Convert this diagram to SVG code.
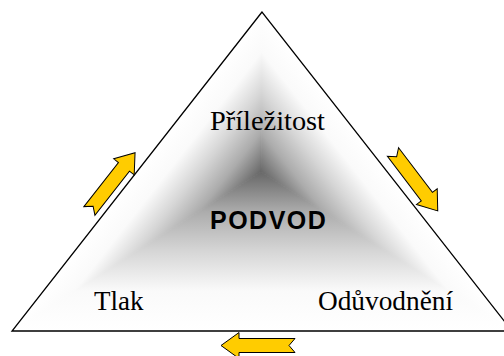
<svg xmlns="http://www.w3.org/2000/svg" xmlns:xlink="http://www.w3.org/1999/xlink" width="504" height="356" viewBox="0 0 504 356">
<style>
.lbl{font-family:"Liberation Serif","Times New Roman",serif;font-size:27px;fill:#000}
.core{font-family:"Liberation Sans",Arial,sans-serif;font-size:25px;font-weight:bold;fill:#000;letter-spacing:1.5px}
.arr{fill:#FFCC00;stroke:#000;stroke-width:1;stroke-linejoin:miter}
.edge{fill:none;stroke:#000;stroke-width:1.3;stroke-linejoin:miter}
</style>
<defs>
<linearGradient id="gB" gradientUnits="userSpaceOnUse" x1="261" y1="331" x2="261" y2="172">
<stop offset="0" stop-color="#ffffff"/><stop offset="0.25" stop-color="#fafafa"/><stop offset="0.5" stop-color="#d6d6d6"/><stop offset="0.75" stop-color="#acacac"/><stop offset="1" stop-color="#686868"/>
</linearGradient>
<linearGradient id="gL" gradientUnits="userSpaceOnUse" x1="183.9" y1="111.6" x2="261" y2="172">
<stop offset="0" stop-color="#ffffff"/><stop offset="0.25" stop-color="#fafafa"/><stop offset="0.5" stop-color="#d6d6d6"/><stop offset="0.75" stop-color="#acacac"/><stop offset="1" stop-color="#686868"/>
</linearGradient>
<linearGradient id="gR" gradientUnits="userSpaceOnUse" x1="339.3" y1="110.6" x2="261" y2="172">
<stop offset="0" stop-color="#ffffff"/><stop offset="0.25" stop-color="#fafafa"/><stop offset="0.5" stop-color="#d6d6d6"/><stop offset="0.75" stop-color="#acacac"/><stop offset="1" stop-color="#686868"/>
</linearGradient>
<clipPath id="tri"><polygon points="262,12 12,331 512,331"/></clipPath>
<path id="notched" d="M0,-7 L56,-7 L56,-13 L74,0 L56,13 L56,7 L0,7 L6,0 Z"/>
</defs>
<rect width="504" height="356" fill="#ffffff"/>
<g id="triangle">
<g clip-path="url(#tri)">
<polygon points="261,172 12,331 512,331" fill="url(#gB)" stroke="url(#gB)" stroke-width="0.8"/>
<polygon points="261,172 262,12 12,331" fill="url(#gL)" stroke="url(#gL)" stroke-width="0.8"/>
<polygon points="261,172 262,12 512,331" fill="url(#gR)" stroke="url(#gR)" stroke-width="0.8"/>
</g>
<polygon class="edge" points="262,12 12,331 512,331"/>
</g>
<g id="connectors">
<use xlink:href="#notched" class="arr" transform="translate(89.4,210.9) rotate(-51.9)"/>
<use xlink:href="#notched" class="arr" transform="translate(393,152) rotate(52.8)"/>
<use xlink:href="#notched" class="arr" transform="translate(295,345.5) rotate(180)"/>
</g>
<g id="node-prilezitost"><text class="lbl" x="210" y="130" textLength="115" lengthAdjust="spacingAndGlyphs">Příležitost</text></g>
<g id="node-podvod"><text class="core" x="210" y="229">PODVOD</text></g>
<g id="node-tlak"><text class="lbl" x="94" y="310">Tlak</text></g>
<g id="node-oduvodneni"><text class="lbl" x="318" y="310" textLength="135" lengthAdjust="spacingAndGlyphs">Odůvodnění</text></g>
</svg>
